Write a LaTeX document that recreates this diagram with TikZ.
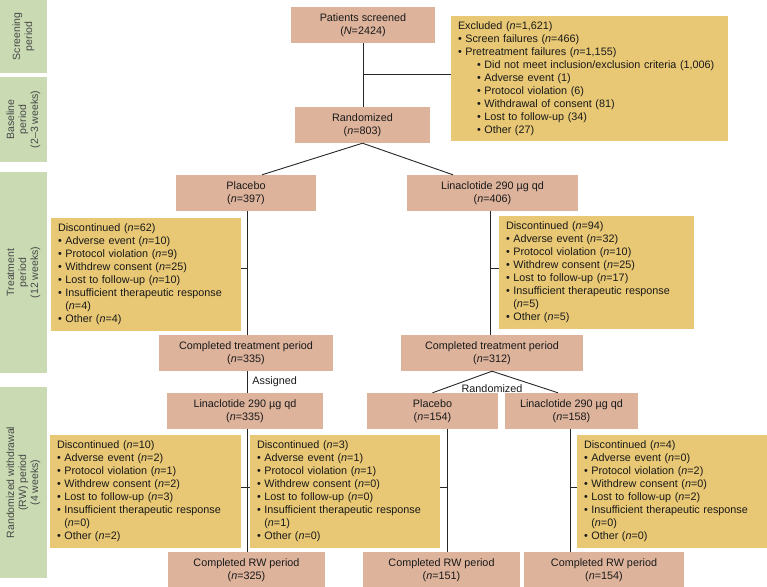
\documentclass[tikz,border=0pt]{standalone}
\usepackage{fontspec}
\setmainfont{Liberation Sans}
\usetikzlibrary{calc,positioning}

\definecolor{armpink}{HTML}{DDB39C}
\definecolor{dropyellow}{HTML}{E8C875}
\definecolor{bandgreen}{HTML}{CADBB3}

\newcommand{\nn}{\textit{n}}
\newcommand{\bul}{\textbullet\ }
\newcommand{\ind}{\hphantom{\textbullet\ }}

\begin{document}
\begin{tikzpicture}[x=1pt, y=-1pt, font=\fontsize{10.8}{13}\selectfont, text=black!90,
    line/.style={draw=black!85, line width=0.9pt},
    arm/.style={fill=armpink, align=center, minimum height=36pt, inner sep=1pt},
    dropbox/.style={fill=dropyellow, align=left, text width=#1, inner xsep=7pt, inner ysep=2pt, minimum height=113pt},
    band/.style={fill=bandgreen, rotate=90, align=center, minimum height=47pt, inner sep=0pt,
                 font=\fontsize{10.5}{12}\selectfont, text=black!72}]
    \useasboundingbox (0,0) rectangle (767,586);

    % period bands on the left
    \node[band, minimum width=73pt]  (screening) at (23.5,36.5)  {Screening\\period};
    \node[band, minimum width=85pt]  (baseline)  at (23.5,119.5) {Baseline\\period\\(2--3 weeks)};
    \node[band, minimum width=201pt] (treatment) at (23.5,272.5) {Treatment\\period\\(12 weeks)};
    \node[band, minimum width=191pt] (rwperiod)  at (23.5,482.5) {Randomized withdrawal\\(RW) period\\(4 weeks)};

    % screening and baseline
    \node[arm, minimum width=144pt] (screened) at (363,25)    {Patients screened\\(\textit{N}=2424)};
    \node[arm, minimum width=135pt] (rand)     at (362.5,125) {Randomized\\(\nn=803)};
    \node[dropbox=263pt, minimum height=125pt] (excl) at (589.5,78.5)
        {Excluded (\nn=1,621)\\\bul Screen failures (\nn=466)\\\bul Pretreatment failures (\nn=1,155)\\
         \hspace*{19pt}\bul Did not meet inclusion/exclusion criteria (1,006)\\
         \hspace*{19pt}\bul Adverse event (1)\\
         \hspace*{19pt}\bul Protocol violation (6)\\
         \hspace*{19pt}\bul Withdrawal of consent (81)\\
         \hspace*{19pt}\bul Lost to follow-up (34)\\
         \hspace*{19pt}\bul Other (27)};

    % treatment period
    \node[arm, minimum width=140pt] (placebo) at (246,193)   {Placebo\\(\nn=397)};
    \node[arm, minimum width=171pt] (lina)    at (492.5,193) {Linaclotide 290 µg qd\\(\nn=406)};
    \node[dropbox=176pt] (disc62) at (146,274.5)
        {Discontinued (\nn=62)\\\bul Adverse event (\nn=10)\\\bul Protocol violation (\nn=9)\\\bul Withdrew consent (\nn=25)\\
         \bul Lost to follow-up (\nn=10)\\\bul Insufficient therapeutic response\\\ind(\nn=4)\\\bul Other (\nn=4)};
    \node[dropbox=181pt] (disc94) at (596.5,272.5)
        {Discontinued (\nn=94)\\\bul Adverse event (\nn=32)\\\bul Protocol violation (\nn=10)\\\bul Withdrew consent (\nn=25)\\
         \bul Lost to follow-up (\nn=17)\\\bul Insufficient therapeutic response\\\ind(\nn=5)\\\bul Other (\nn=5)};
    \node[arm, minimum width=174pt] (comp335) at (246,353) {Completed treatment period\\(\nn=335)};
    \node[arm, minimum width=182pt] (comp312) at (492,353) {Completed treatment period\\(\nn=312)};

    % randomized withdrawal period
    \node[arm, minimum width=156pt] (lina335) at (245,411)   {Linaclotide 290 µg qd\\(\nn=335)};
    \node[arm, minimum width=131pt] (pla154)  at (432.5,411) {Placebo\\(\nn=154)};
    \node[arm, minimum width=133pt] (lina158) at (571.5,411) {Linaclotide 290 µg qd\\(\nn=158)};
    \node[dropbox=177pt] (disc10) at (145.5,491.5)
        {Discontinued (\nn=10)\\\bul Adverse event (\nn=2)\\\bul Protocol violation (\nn=1)\\\bul Withdrew consent (\nn=2)\\
         \bul Lost to follow-up (\nn=3)\\\bul Insufficient therapeutic response\\\ind(\nn=0)\\\bul Other (\nn=2)};
    \node[dropbox=176pt] (disc3) at (345,491.5)
        {Discontinued (\nn=3)\\\bul Adverse event (\nn=1)\\\bul Protocol violation (\nn=1)\\\bul Withdrew consent (\nn=0)\\
         \bul Lost to follow-up (\nn=0)\\\bul Insufficient therapeutic response\\\ind(\nn=1)\\\bul Other (\nn=0)};
    \node[dropbox=176pt] (disc4) at (672,491.5)
        {Discontinued (\nn=4)\\\bul Adverse event (\nn=0)\\\bul Protocol violation (\nn=2)\\\bul Withdrew consent (\nn=0)\\
         \bul Lost to follow-up (\nn=2)\\\bul Insufficient therapeutic response\\\ind(\nn=0)\\\bul Other (\nn=0)};
    \node[arm, minimum width=157pt] (rw325) at (246.5,570) {Completed RW period\\(\nn=325)};
    \node[arm, minimum width=157pt] (rw151) at (441.5,570) {Completed RW period\\(\nn=151)};
    \node[arm, minimum width=160pt] (rw154) at (604,570)   {Completed RW period\\(\nn=154)};

    % branch points
    \coordinate (b0) at (363,74);
    \coordinate (b1) at (247,268);
    \coordinate (b2) at (490,268);
    \coordinate (b3) at (247,487);
    \coordinate (b4) at (447,487);
    \coordinate (b5) at (570,487);

    % connectors
    \draw[line] (screened.south) -- (screened.south |- rand.north);
    \draw[line] (b0) -- (b0 -| excl.west);
    \draw[line] (rand.south) -- ([xshift=16pt]placebo.north);
    \draw[line] (rand.south) -- ([xshift=-39.5pt]lina.north);
    \draw[line] ([xshift=1pt]placebo.south) -- ([xshift=1pt]placebo.south |- comp335.north);
    \draw[line] (b1) -- (b1 -| disc62.east);
    \draw[line] ([xshift=-2.5pt]lina.south) -- ([xshift=-2.5pt]lina.south |- comp312.north);
    \draw[line] (b2) -- (b2 -| disc94.west);
    \draw[line] ([xshift=1pt]comp335.south) -- ([xshift=1pt]comp335.south |- lina335.north)
        node[right, pos=0.5, inner sep=5pt] {Assigned};
    \draw[line] ([xshift=2pt]lina335.south) -- ([xshift=2pt]lina335.south |- rw325.north);
    \draw[line] (b3 -| disc10.east) -- (b3 -| disc3.west);
    \draw[line] (comp312.south) -- (pla154.north);
    \draw[line] (comp312.south) -- ([xshift=-13.5pt]lina158.north);
    \node (randlbl) at ([yshift=-17pt]comp312.south) {Randomized};
    \draw[line] ([xshift=14.5pt]pla154.south) -- ([xshift=14.5pt]pla154.south |- rw151.north);
    \draw[line] (b4) -- (b4 -| disc3.east);
    \draw[line] ([xshift=-1.5pt]lina158.south) -- ([xshift=-1.5pt]lina158.south |- rw154.north);
    \draw[line] (b5) -- (b5 -| disc4.west);
\end{tikzpicture}
\end{document}
